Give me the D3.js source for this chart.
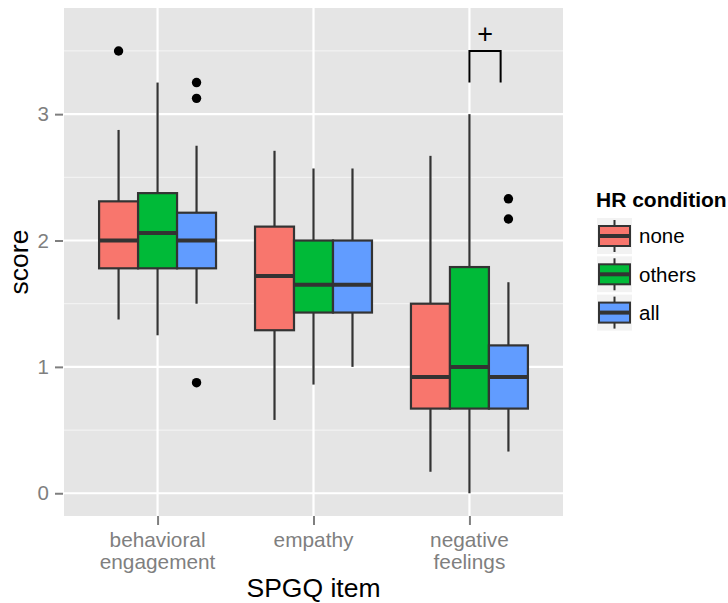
<!DOCTYPE html>
<html>
<head>
<meta charset="utf-8">
<script src="https://cdn.jsdelivr.net/npm/d3@7"></script>
<style>
  body { margin: 0; background: #fff; }
  text { font-family: "Liberation Sans", Arial, sans-serif; }
</style>
</head>
<body>
<div id="chart"></div>
<script>
// categories and groups
var items = ["behavioral\nengagement", "empathy", "negative\nfeelings"];
var conditions = ["none", "others", "all"];
var colors = ["#F8766D", "#00BA38", "#619CFF"];

// box stats per item (rows) and condition (cols)
var whiskerLow  = [[1.375, 1.25, 1.5], [0.58, 0.86, 1.0], [0.17, 0, 0.33]];
var q1          = [[1.78, 1.78, 1.78], [1.29, 1.43, 1.43], [0.67, 0.67, 0.67]];
var median      = [[2.0, 2.06, 2.0], [1.72, 1.65, 1.65], [0.92, 1.0, 0.92]];
var q3          = [[2.31, 2.375, 2.22], [2.11, 2.0, 2.0], [1.5, 1.79, 1.17]];
var whiskerHigh = [[2.875, 3.25, 2.75], [2.71, 2.57, 2.57], [2.67, 3.0, 1.67]];
// outliers: [item index, condition index, value]
var outliers = [[0, 0, 3.5], [0, 2, 3.25], [0, 2, 3.125], [0, 2, 0.875], [2, 2, 2.33], [2, 2, 2.17]];

var yTicks = [0, 1, 2, 3];
var yMinor = [0.5, 1.5, 2.5, 3.5];

// significance bracket (x in category units, 1-based)
var bracketX = [3, 3, 3.2, 3.2];
var bracketY = [3.25, 3.5, 3.5, 3.25];
var sigLabel = "+";
var sigPos = [3.1, 3.64];

var W = 728, H = 603;
var panel = {left: 64, right: 563, top: 8, bottom: 516};

var svg = d3.select("#chart").append("svg")
	.attr("width", W)
	.attr("height", H);

svg.append("rect").attr("width", W).attr("height", H).attr("fill", "#fff");

var x = d3.scalePoint()
	.domain(items)
	.range([panel.left, panel.right])
	.padding(0.6);
var step = x.step();

// category units -> pixels (for annotation)
var xc = d3.scaleLinear().domain([1, 2]).range([x(items[0]), x(items[1])]);

var dodge = d3.scaleBand()
	.domain(conditions)
	.range([-0.375 * step, 0.375 * step]);
var bw = dodge.bandwidth();

var y = d3.scaleLinear()
	.domain([-0.18, 3.84])
	.range([panel.bottom, panel.top]);

// panel background
svg.append("rect")
	.attr("x", panel.left).attr("y", panel.top)
	.attr("width", panel.right - panel.left)
	.attr("height", panel.bottom - panel.top)
	.attr("fill", "#E5E5E5");

// minor grid
svg.selectAll(".minor").data(yMinor).enter().append("line")
	.attr("x1", panel.left).attr("x2", panel.right)
	.attr("y1", function(d) { return y(d); })
	.attr("y2", function(d) { return y(d); })
	.attr("stroke", "#F2F2F2").attr("stroke-width", 1.2);

// major grid
svg.selectAll(".major").data(yTicks).enter().append("line")
	.attr("x1", panel.left).attr("x2", panel.right)
	.attr("y1", function(d) { return y(d); })
	.attr("y2", function(d) { return y(d); })
	.attr("stroke", "#fff").attr("stroke-width", 2.2);

svg.selectAll(".vgrid").data(items).enter().append("line")
	.attr("x1", function(d) { return x(d); })
	.attr("x2", function(d) { return x(d); })
	.attr("y1", panel.top).attr("y2", panel.bottom)
	.attr("stroke", "#fff").attr("stroke-width", 2.2);

// axes
var yAxis = svg.append("g")
	.attr("transform", "translate(" + (panel.left - 1) + ",0)")
	.call(d3.axisLeft(y).tickValues(yTicks).tickSize(8).tickPadding(6).tickFormat(d3.format("d")));
yAxis.select(".domain").remove();
yAxis.selectAll(".tick line").attr("stroke", "#7F7F7F").attr("stroke-width", 2);
yAxis.selectAll(".tick text")
	.attr("fill", "#7F7F7F")
	.style("font-size", "20.5px")
	.style("font-family", "Liberation Sans, Arial, sans-serif");

var xAxis = svg.append("g")
	.attr("transform", "translate(0," + panel.bottom + ")")
	.call(d3.axisBottom(x).tickSize(9).tickFormat(""));
xAxis.select(".domain").remove();
xAxis.selectAll(".tick line").attr("stroke", "#7F7F7F").attr("stroke-width", 2);

items.forEach(function(it) {
	var t = svg.append("text")
		.attr("text-anchor", "middle")
		.attr("fill", "#7F7F7F")
		.style("font-size", "20.8px");
	it.split("\n").forEach(function(line, i) {
		t.append("tspan")
			.attr("x", x(it))
			.attr("y", 547 + i * 22)
			.text(line);
	});
});

svg.append("text")
	.attr("x", (panel.left + panel.right) / 2)
	.attr("y", 597)
	.attr("text-anchor", "middle")
	.style("font-size", "26.5px")
	.text("SPGQ item");

svg.append("text")
	.attr("transform", "translate(28," + ((panel.top + panel.bottom) / 2) + ") rotate(-90)")
	.attr("text-anchor", "middle")
	.style("font-size", "26.5px")
	.text("score");

// boxes
var boxes = [];
items.forEach(function(it, i) {
	conditions.forEach(function(c, j) {
		boxes.push({item: it, cond: c, j: j,
			lo: whiskerLow[i][j], q1: q1[i][j], med: median[i][j],
			q3: q3[i][j], hi: whiskerHigh[i][j]});
	});
});

var bx = function(d) { return x(d.item) + dodge(d.cond); };
var cx = function(d) { return bx(d) + bw / 2; };

var g = svg.append("g");
var box = g.selectAll(".box").data(boxes).enter().append("g");

box.append("line")
	.attr("x1", cx).attr("x2", cx)
	.attr("y1", function(d) { return y(d.hi); })
	.attr("y2", function(d) { return y(d.q3); })
	.attr("stroke", "#333").attr("stroke-width", 2.2);
box.append("line")
	.attr("x1", cx).attr("x2", cx)
	.attr("y1", function(d) { return y(d.q1); })
	.attr("y2", function(d) { return y(d.lo); })
	.attr("stroke", "#333").attr("stroke-width", 2.2);
box.append("rect")
	.attr("x", bx)
	.attr("width", bw)
	.attr("y", function(d) { return y(d.q3); })
	.attr("height", function(d) { return y(d.q1) - y(d.q3); })
	.attr("fill", function(d) { return colors[d.j]; })
	.attr("stroke", "#333").attr("stroke-width", 2.2);
box.append("line")
	.attr("x1", bx)
	.attr("x2", function(d) { return bx(d) + bw; })
	.attr("y1", function(d) { return y(d.med); })
	.attr("y2", function(d) { return y(d.med); })
	.attr("stroke", "#333").attr("stroke-width", 4);

g.selectAll(".out").data(outliers).enter().append("circle")
	.attr("cx", function(d) { return x(items[d[0]]) + dodge(conditions[d[1]]) + bw / 2; })
	.attr("cy", function(d) { return y(d[2]); })
	.attr("r", 4.7)
	.attr("fill", "#000");

// significance bracket
var bracket = d3.line()
	.x(function(d) { return xc(d[0]); })
	.y(function(d) { return y(d[1]); });
svg.append("path")
	.attr("d", bracket(d3.zip(bracketX, bracketY)))
	.attr("fill", "none")
	.attr("stroke", "#000")
	.attr("stroke-width", 2);
svg.append("text")
	.attr("x", xc(sigPos[0]))
	.attr("y", y(sigPos[1]))
	.attr("dy", "0.36em")
	.attr("text-anchor", "middle")
	.style("font-size", "27px")
	.text(sigLabel);

// legend
var legend = svg.append("g").attr("transform", "translate(596,0)");
legend.append("text")
	.attr("x", 0).attr("y", 207)
	.style("font-size", "21px")
	.style("font-weight", "bold")
	.text("HR condition");

var key = legend.selectAll(".key").data(conditions).enter().append("g")
	.attr("transform", function(d, i) { return "translate(0," + (217 + i * 38.3) + ")"; });
key.append("rect")
	.attr("width", 37).attr("height", 38)
	.attr("fill", "#F2F2F2").attr("stroke", "#fff").attr("stroke-width", 2);
key.append("line")
	.attr("x1", 18.5).attr("x2", 18.5).attr("y1", 3).attr("y2", 35)
	.attr("stroke", "#333").attr("stroke-width", 2);
key.append("rect")
	.attr("x", 3).attr("y", 9).attr("width", 31).attr("height", 20)
	.attr("fill", function(d, i) { return colors[i]; })
	.attr("stroke", "#333").attr("stroke-width", 2);
key.append("line")
	.attr("x1", 3).attr("x2", 34).attr("y1", 19).attr("y2", 19)
	.attr("stroke", "#333").attr("stroke-width", 4);
key.append("text")
	.attr("x", 43).attr("y", 19).attr("dy", "0.36em")
	.style("font-size", "20.5px")
	.text(function(d) { return d; });
</script>
</body>
</html>
